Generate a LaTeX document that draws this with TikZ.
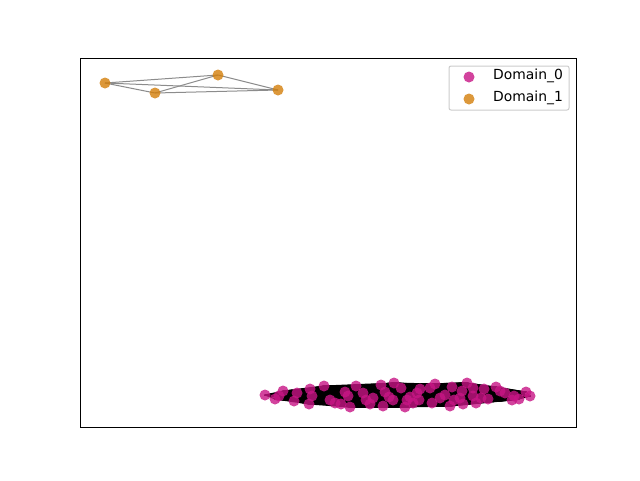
\documentclass[tikz,border=0pt]{standalone}
\usepackage{fontspec}
\setmainfont{DejaVu Sans}
\usetikzlibrary{backgrounds}
\pgfdeclarelayer{bottom}
\pgfsetlayers{bottom,background,main}
\definecolor{mvr}{RGB}{199,21,133}
\definecolor{gold}{RGB}{212,127,10}
\definecolor{edgegray}{RGB}{140,140,140}
\definecolor{legframe}{RGB}{204,204,204}
\tikzset{
  dnode/.style={circle, inner sep=0pt, minimum size=11pt, fill=mvr, fill opacity=0.8},
  onode/.style={circle, inner sep=0pt, minimum size=11pt, fill=gold, fill opacity=0.8},
  bedge/.style={black, line width=1pt},
  gedge/.style={edgegray, line width=1pt},
  legtext/.style={anchor=west, inner sep=0pt, font=\fontsize{13.9}{16}\selectfont},
}
\begin{document}
\begin{tikzpicture}[x=1pt,y=-1pt]
\useasboundingbox (0,0) rectangle (640,480);
\begin{pgfonlayer}{bottom}
\fill[white] (0,0) rectangle (640,480);
\end{pgfonlayer}
% Domain_0 nodes
\foreach [count=\i] \p in {(265,395),(275,399),(283,391),(279,396),(294,401),(297,393),(310,389),(309,404),(312,396),(324,386),(330,400),(335,403),(341,404),(345,392),(350,407),(348,396),(356,386),(363,393),(366,400),(370,404),(373,398),(381,385),(383,406),(385,392),(389,397),(394,383),(393,400),(401,388),(405,407),(407,400),(410,397),(413,403),(417,393),(420,389),(419,400),(430,388),(432,403),(435,384),(440,398),(445,395),(450,406),(452,387),(454,400),(460,398),(462,391),(467,383),(463,404),(473,388),(473,396),(476,403),(481,398),(484,389),(488,399),(496,387),(500,391),(505,393),(512,400),(514,396),(519,399),(526,392),(530,396)}
  \node[dnode] (d\i) at \p {};
\begin{scope}[on background layer]
\foreach \i in {1,...,61}
  \foreach \j in {\i,...,61}
    \draw[bedge] (d\i.center) -- (d\j.center);
\end{scope}
% Domain_1 nodes
\node[onode] (o1) at (105,83) {};
\node[onode] (o2) at (155,93) {};
\node[onode] (o3) at (218,75) {};
\node[onode] (o4) at (278,90) {};
\begin{scope}[on background layer]
\foreach \a/\b in {1/2,1/3,1/4,2/3,2/4,3/4}
  \draw[gedge] (o\a.center) -- (o\b.center);
\end{scope}
% axes frame
\draw[black, line width=1pt] (80,58) rectangle (576,427);
% legend
\node[draw=legframe, fill=white, fill opacity=0.8, draw opacity=1, rounded corners=2pt, line width=1pt, minimum width=120pt, minimum height=44pt, inner sep=0pt] (leg) at (509,88) {};
\node[dnode] (l0) at (469,77) {};
\node[onode] (l1) at (469,99) {};
\node[legtext] (t0) at (493,76) {Domain\_0};
\node[legtext] (t1) at (493,98) {Domain\_1};
\end{tikzpicture}
\end{document}
